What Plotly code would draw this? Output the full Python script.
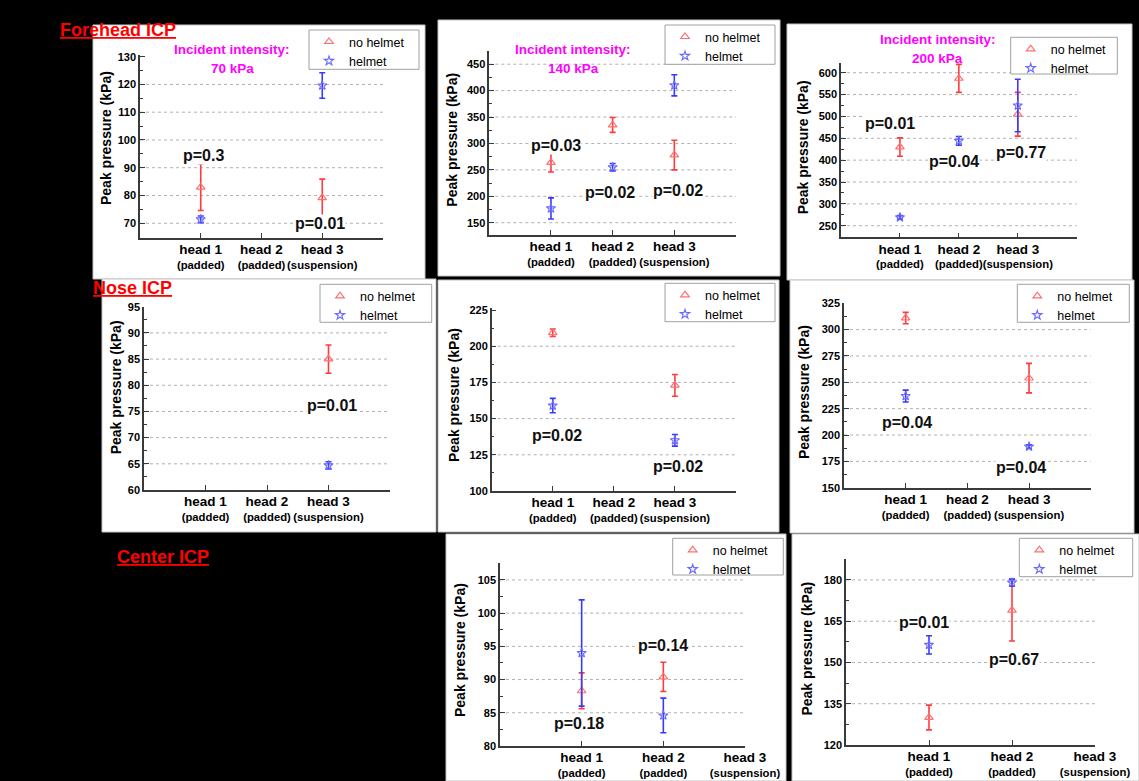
import plotly.graph_objects as go

W, H = 1139, 781
FONT = "Liberation Sans, Arial, sans-serif"

# ---------------- data ----------------
heads = [1, 2, 3]
head_names = ["head 1", "head 2", "head 3"]
head_types = ["(padded)", "(padded)", "(suspension)"]

# Forehead ICP
fh70_nohelmet = [83.0, None, 79.2]
fh70_nohelmet_err = [8.4, None, 6.7]
fh70_helmet = [71.4, None, 119.6]
fh70_helmet_err = [1.2, None, 4.6]

fh140_nohelmet = [264, 335, 278]
fh140_nohelmet_err = [18, 14, 28]
fh140_helmet = [177, 255, 410]
fh140_helmet_err = [20, 7, 20]

fh200_nohelmet = [430, 587, 505]
fh200_nohelmet_err = [21, 32, 50]
fh200_helmet = [269, 444, 525]
fh200_helmet_err = [4, 10, 60]

# Nose ICP
nose70_nohelmet = [None, None, 85.0]
nose70_nohelmet_err = [None, None, 2.7]
nose70_helmet = [None, None, 64.7]
nose70_helmet_err = [None, None, 0.7]

nose140_nohelmet = [209.3, None, 173]
nose140_nohelmet_err = [2.6, None, 7.5]
nose140_helmet = [159, None, 135]
nose140_helmet_err = [5, None, 4]

nose200_nohelmet = [311, None, 254]
nose200_nohelmet_err = [5.4, None, 14]
nose200_helmet = [237, None, 189]
nose200_helmet_err = [5.6, None, 1.6]

# Center ICP
ctr140_nohelmet = [88.3, 90.4, None]
ctr140_nohelmet_err = [2.7, 2.2, None]
ctr140_helmet = [94, 84.6, None]
ctr140_helmet_err = [8, 2.6, None]

ctr200_nohelmet = [130, 169, None]
ctr200_nohelmet_err = [4.5, 11.2, None]
ctr200_helmet = [156.4, 179, None]
ctr200_helmet_err = [3.3, 1.3, None]

# p-values (text, x in head units, y in kPa)
fh70_p = [("p=0.3", 1.04, 94.3), ("p=0.01", 2.97, 70.0)]
fh140_p = [("p=0.03", 1.08, 297), ("p=0.02", 1.96, 207), ("p=0.02", 3.06, 210)]
fh200_p = [("p=0.01", 0.83, 484), ("p=0.04", 1.91, 398), ("p=0.77", 3.05, 417)]
nose70_p = [("p=0.01", 3.06, 76.1)]
nose140_p = [("p=0.02", 1.07, 138), ("p=0.02", 3.05, 116.6)]
nose200_p = [("p=0.04", 1.02, 212), ("p=0.04", 2.87, 169)]
ctr140_p = [("p=0.18", 0.97, 83.4), ("p=0.14", 2.0, 95.2)]
ctr200_p = [("p=0.01", 0.94, 164.5), ("p=0.67", 2.02, 150.9)]

# ---------------- layout geometry (pixels) ----------------
panels = [
    dict(data=(fh70_nohelmet, fh70_nohelmet_err, fh70_helmet, fh70_helmet_err), p=fh70_p,
         box=(93, 25, 425, 279), plot=(140, 55, 383, 237.7), yr=[64.8, 130.6],
         yt=(70, 130, 10), grid=[70, 80, 90, 100, 110, 120], xmax=4,
         leg=(309, 30, 419, 69.3), ytitle=(106.7, 138.3), intensity=("70 kPa", 232, 49.3, 68.3)),
    dict(data=(fh140_nohelmet, fh140_nohelmet_err, fh140_helmet, fh140_helmet_err), p=fh140_p,
         box=(438, 20, 780, 276), plot=(489.3, 51, 736, 235), yr=[126.7, 475],
         yt=(150, 450, 50), grid=[150, 200, 250, 300, 350, 400, 450], xmax=4,
         leg=(665, 25, 775, 64.3), ytitle=(451.7, 140), intensity=("140 kPa", 573.3, 49.3, 68.3)),
    dict(data=(fh200_nohelmet, fh200_nohelmet_err, fh200_helmet, fh200_helmet_err), p=fh200_p,
         box=(787, 24, 1132, 280), plot=(841, 62.7, 1076.7, 237.3), yr=[223.5, 622.9],
         yt=(250, 600, 50), grid=[250, 300, 350, 400, 450, 500, 550, 600], xmax=4,
         leg=(1010.7, 37.3, 1117.3, 74), ytitle=(803.3, 147), intensity=("200 kPa", 937.5, 39, 58.3)),
    dict(data=(nose70_nohelmet, nose70_nohelmet_err, nose70_helmet, nose70_helmet_err), p=nose70_p,
         box=(102, 279, 436, 532), plot=(144, 306.7, 390, 490), yr=[60, 95],
         yt=(60, 95, 5), grid=[65, 70, 75, 80, 85, 90], xmax=4,
         leg=(320, 284.3, 431.7, 322.3), ytitle=(116, 387.3), intensity=None),
    dict(data=(nose140_nohelmet, nose140_nohelmet_err, nose140_helmet, nose140_helmet_err), p=nose140_p,
         box=(438, 280, 779, 532), plot=(491.7, 308.3, 736, 491), yr=[100, 226.2],
         yt=(100, 225, 25), grid=[125, 150, 175, 200], xmax=4,
         leg=(665, 283.3, 775, 321.7), ytitle=(454, 395), intensity=None),
    dict(data=(nose200_nohelmet, nose200_nohelmet_err, nose200_helmet, nose200_helmet_err), p=nose200_p,
         box=(790, 280, 1134, 533), plot=(844, 303.3, 1090.7, 487.7), yr=[150, 325],
         yt=(150, 325, 25), grid=[175, 200, 225, 250, 275, 300], xmax=4,
         leg=(1017.3, 284.3, 1129.3, 322.3), ytitle=(804, 392), intensity=None),
    dict(data=(ctr140_nohelmet, ctr140_nohelmet_err, ctr140_helmet, ctr140_helmet_err), p=ctr140_p,
         box=(446, 534, 786, 781), plot=(500, 563.3, 745, 746), yr=[80, 107.5],
         yt=(80, 105, 5), grid=[85, 90, 95, 100, 105], xmax=3,
         leg=(672.7, 538.3, 783.3, 575), ytitle=(460, 650), intensity=None),
    dict(data=(ctr200_nohelmet, ctr200_nohelmet_err, ctr200_helmet, ctr200_helmet_err), p=ctr200_p,
         box=(792, 534, 1139, 781), plot=(846, 559.3, 1095, 745), yr=[120, 187.5],
         yt=(120, 180, 15), grid=[135, 150, 165, 180], xmax=3,
         leg=(1019.3, 538.3, 1132.7, 576.7), ytitle=(807.3, 648.3), intensity=None),
]

section_titles = [("Forehead ICP", 118, 30), ("Nose ICP", 132, 288), ("Center ICP", 163, 557)]


def px(x):
    return x / W


def py(y):
    return 1 - y / H


RED_MK = "#ff6f6f"
RED_ERR = "#ff3b3b"
BLUE_MK = "#6a6aff"
BLUE_ERR = "#3a3aff"
AXC = "#3a3a3a"

fig = go.Figure()
shapes = []
annotations = []
layout = {}

for i, pn in enumerate(panels, start=1):
    sfx = "" if i == 1 else str(i)
    xa, ya = "x" + sfx, "y" + sfx
    leg = "legend" + sfx
    nh, nh_err, h, h_err = pn["data"]

    fig.add_trace(go.Scatter(
        x=heads, y=nh, mode="markers", name="no helmet",
        marker=dict(symbol="triangle-up-open", size=7.5, color=RED_MK, line=dict(width=1.2)),
        error_y=dict(type="data", array=nh_err, visible=True, color=RED_ERR, thickness=1.6, width=3),
        xaxis=xa, yaxis=ya, legend=leg, showlegend=True))
    fig.add_trace(go.Scatter(
        x=heads, y=h, mode="markers", name="helmet",
        marker=dict(symbol="star-open", size=7, color=BLUE_MK, line=dict(width=1.1)),
        error_y=dict(type="data", array=h_err, visible=True, color=BLUE_ERR, thickness=1.6, width=3),
        xaxis=xa, yaxis=ya, legend=leg, showlegend=True))

    x0, y0, x1, y1 = pn["plot"]
    xmax = pn["xmax"]
    xt_vals = list(range(0, xmax + 1))
    xt_text = []
    for v in xt_vals:
        if 1 <= v <= 3:
            xt_text.append("<span style='font-size:13.5px'><b>%s</b></span><br><b>%s</b>"
                           % (head_names[v - 1], head_types[v - 1]))
        else:
            xt_text.append("")
    layout["xaxis" + sfx] = dict(
        domain=[px(x0), px(x1)], anchor=ya, range=[0, xmax],
        tickmode="array", tickvals=xt_vals, ticktext=xt_text, tickangle=0,
        ticks="inside", ticklen=5, tickwidth=1.3, tickcolor=AXC,
        ticklabelstandoff=1,
        showline=True, linecolor=AXC, linewidth=1.5,
        showgrid=False, zeroline=False, automargin=False,
        tickfont=dict(family=FONT, size=11.3, color="black"),
        fixedrange=True)
    t0, t1, dt = pn["yt"]
    yvals = list(range(t0, t1 + 1, dt))
    layout["yaxis" + sfx] = dict(
        domain=[py(y1), py(y0)], anchor=xa, range=pn["yr"],
        tickmode="array", tickvals=yvals,
        ticktext=["<b>%d</b>" % v for v in yvals],
        ticks="inside", ticklen=5, tickwidth=1.3, tickcolor=AXC,
        minor=dict(ticks="inside", ticklen=3, tickwidth=1, tickcolor=AXC,
                   tick0=t0, dtick=dt / 2, showgrid=False),
        showline=True, linecolor=AXC, linewidth=1.5,
        showgrid=False, zeroline=False, automargin=False,
        tickfont=dict(family=FONT, size=11, color="black"),
        fixedrange=True)

    # white panel
    bx0, by0, bx1, by1 = pn["box"]
    shapes.append(dict(type="rect", xref="paper", yref="paper",
                       x0=px(bx0), x1=px(bx1), y0=py(by1), y1=py(by0),
                       fillcolor="white", line=dict(color="#c4c4c4", width=1), layer="below"))
    # dotted grid lines
    for g in pn["grid"]:
        shapes.append(dict(type="line", xref=xa + " domain", yref=ya,
                           x0=0, x1=1, y0=g, y1=g,
                           line=dict(color="#b0b0b0", width=1, dash="dot"), layer="below"))

    # legend frame + legend
    lx0, ly0, lx1, ly1 = pn["leg"]
    shapes.append(dict(type="rect", xref="paper", yref="paper",
                       x0=px(lx0), x1=px(lx1), y0=py(ly1), y1=py(ly0),
                       fillcolor="white", line=dict(color="#a0a0a0", width=1), layer="above"))
    layout[leg] = dict(x=px(lx0), y=py(ly0 - 3), xanchor="left", yanchor="top",
                       xref="paper", yref="paper",
                       bgcolor="rgba(0,0,0,0)", borderwidth=0,
                       font=dict(family=FONT, size=12.5, color="black"),
                       tracegroupgap=0, itemwidth=30)

    # y axis title
    tx, ty = pn["ytitle"]
    annotations.append(dict(text="<b>Peak pressure (kPa)</b>", xref="paper", yref="paper",
                            x=px(tx), y=py(ty), xanchor="center", yanchor="middle",
                            textangle=-90, showarrow=False,
                            font=dict(family=FONT, size=14, color="black")))
    # p-values
    for txt, xv, yv in pn["p"]:
        annotations.append(dict(text="<b>%s</b>" % txt, xref=xa, yref=ya, x=xv, y=yv,
                                xanchor="center", yanchor="middle", showarrow=False,
                                bgcolor="white", borderpad=0,
                                font=dict(family=FONT, size=16, color="#111111")))
    # incident intensity
    if pn["intensity"]:
        lab, cx, yA, yB = pn["intensity"]
        annotations.append(dict(text="<b>Incident intensity:</b>", xref="paper", yref="paper",
                                x=px(cx), y=py(yA), xanchor="center", yanchor="middle",
                                showarrow=False, font=dict(family=FONT, size=13.5, color="#ff00ff")))
        annotations.append(dict(text="<b>%s</b>" % lab, xref="paper", yref="paper",
                                x=px(cx), y=py(yB), xanchor="center", yanchor="middle",
                                showarrow=False, font=dict(family=FONT, size=13.5, color="#ff00ff")))

for txt, cx, cy in section_titles:
    annotations.append(dict(text="<b><u>%s</u></b>" % txt, xref="paper", yref="paper",
                            x=px(cx), y=py(cy), xanchor="center", yanchor="middle",
                            showarrow=False, font=dict(family=FONT, size=18, color="#ff0000")))

fig.update_layout(
    width=W, height=H, margin=dict(l=0, r=0, t=0, b=0, autoexpand=False),
    paper_bgcolor="black", plot_bgcolor="rgba(0,0,0,0)",
    shapes=shapes, annotations=annotations,
    **layout)

fig.write_html("out.html")
